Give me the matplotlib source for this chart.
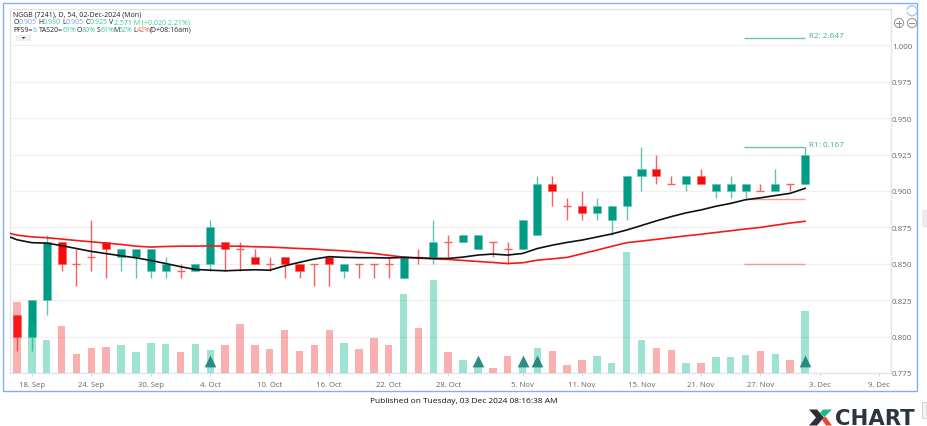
import matplotlib
matplotlib.use('Agg')
import matplotlib.pyplot as plt
from matplotlib.patches import Rectangle, Circle, Polygon, FancyBboxPatch
import numpy as np

# candles, one value per bar
opens = [.815, .800, .825, .865, .850, .855, .865, .855, .855, .845, .845, .845, .845, .850, .865, .860, .855, .850, .855, .850,
         .850, .855, .845, .850, .850, .850, .840, .855, .855, .865, .865, .860, .865, .860, .860, .870, .905, .890, .890, .885,
         .880, .890, .910, .915, .905, .905, .910, .900, .900, .900, .900, .900, .905, .905]
closes = [.800, .825, .865, .850, .850, .855, .860, .860, .860, .860, .850, .845, .850, .875, .860, .860, .850, .850, .850, .845,
          .850, .850, .850, .850, .850, .850, .855, .855, .865, .865, .870, .870, .865, .860, .880, .905, .900, .890, .885, .890,
          .890, .910, .915, .910, .905, .910, .905, .905, .905, .905, .900, .905, .905, .925]
highs = [.815, .825, .870, .865, .860, .880, .865, .860, .860, .860, .855, .850, .850, .880, .865, .865, .860, .855, .855, .850,
         .850, .855, .850, .850, .850, .855, .855, .860, .880, .870, .870, .870, .865, .865, .880, .910, .910, .895, .900, .895,
         .890, .910, .930, .925, .910, .910, .915, .905, .910, .905, .905, .915, .905, .930]
lows = [.790, .790, .815, .845, .835, .845, .840, .845, .840, .840, .840, .840, .845, .845, .845, .845, .850, .845, .840, .840,
        .835, .835, .840, .840, .840, .840, .840, .850, .850, .855, .865, .860, .855, .850, .860, .870, .890, .880, .880, .880,
        .870, .880, .900, .905, .905, .900, .905, .895, .895, .895, .900, .900, .900, .905]
is_up = [0, 1, 1, 0, 0, 0, 0, 1, 1, 1, 1, 0, 1, 1, 0, 0, 0, 0, 0, 0,
         0, 0, 1, 0, 0, 0, 1, 0, 1, 0, 1, 1, 0, 0, 1, 1, 0, 0, 0, 1,
         1, 1, 1, 0, 0, 1, 0, 1, 1, 1, 0, 1, 0, 1]
volumes = [2.94, 1.97, 1.36, 1.96, .79, 1.04, 1.08, 1.18, .89, 1.25, 1.21, .875, 1.21, .97, 1.15, 2.03, 1.18, 1.0, 1.78, .90,
           1.18, 1.78, 1.24, 1.0, 1.46, 1.15, 3.31, 1.875, 3.86, .86, .53, .27, .19, .69, .27, 1.03, .92, .32, .53, .71,
           .40, 5.04, 1.36, 1.04, .94, .42, .42, .68, .68, .76, .90, .79, .56, 2.57]

# moving averages, the first value sits one bar left of the first candle
ma_black = [.8705, .8665, .8645, .8642, .8625, .8605, .8585, .857, .8555, .8541, .8523, .8502, .848, .8461, .8456, .8452, .8456, .8459, .8456, .8486,
            .851, .8533, .8549, .8544, .8542, .8542, .854, .8544, .8541, .8537, .8537, .8546, .856, .8567, .856, .8571, .8605, .8628, .8647, .8663,
            .8684, .8705, .8732, .8763, .8795, .8824, .885, .887, .8895, .8915, .894, .8953, .8969, .8984, .9018]
ma_red = [.8722, .8697, .8685, .8679, .867, .866, .8651, .8642, .8633, .8621, .8615, .8619, .8621, .8621, .8623, .8621, .8621, .8617, .8615, .861,
          .8605, .8601, .8594, .8589, .858, .8571, .8558, .8546, .8539, .8534, .853, .8523, .8516, .8509, .8502, .8507, .8525, .8534, .8544, .8569,
          .8594, .862, .8645, .8656, .8668, .868, .8692, .8703, .8715, .8727, .8739, .875, .8765, .878, .8792]

signal_bars = [13, 31, 34, 35, 53]
tick_bars = [1, 5, 9, 13, 17, 21, 25, 29, 34, 38, 42, 46, 50, 54, 58]
tick_labels = ['18. Sep', '24. Sep', '30. Sep', '4. Oct', '10. Oct', '16. Oct', '22. Oct', '28. Oct',
               '5. Nov', '11. Nov', '15. Nov', '21. Nov', '27. Nov', '3. Dec', '9. Dec']
price_ticks = [.775, .800, .825, .850, .875, .900, .925, .950, .975, 1.000]

r_start, r_end = 48.9, 53
r2_level, r1_level = 1.005, .930
s1_level, s2_level = .8945, .850

TEAL = '#009b84'
RED = '#f90a0a'
W, H = 928, 427
plt.rcParams['font.family'] = ['Open Sans', 'DejaVu Sans']

fig = plt.figure(figsize=(W/100, H/100), dpi=100, facecolor='white')

# plain pixel layer for the frame and the small widgets
bg = fig.add_axes([0, 0, 1, 1], zorder=0)
bg.set_xlim(0, W)
bg.set_ylim(H, 0)
bg.axis('off')
bg.add_patch(Rectangle((3.5, 3.5), 914, 388.5, fill=False, ec='#7fb0f5', lw=1))

# price axis
ax = fig.add_axes([10/W, 1-374/H, 881/W, 364.5/H], zorder=1)
ax.patch.set_alpha(0)
x = np.arange(len(opens))
ax.set_xlim(-0.47, 58.78)
ax.set_ylim(.775, .775 + 364.5/36.4*.025)

# volume sits on its own scale over the candles
vol = ax.twinx()
vol.set_zorder(2)
vol.patch.set_alpha(0)
vol.set_ylim(0, 364.5/24)
vol.set_yticks([])
for side in vol.spines:
    vol.spines[side].set_visible(False)
cols = ['#00b386' if u else '#f43030' for u in is_up]
vol.bar(x, volumes, width=.5, color=cols, alpha=.38, zorder=2)
vol.scatter(signal_bars, [.52]*len(signal_bars), marker='^', s=72, color='#1d8379', alpha=.92, lw=0, zorder=3)

ax.yaxis.tick_right()
ax.set_yticks(price_ticks)
ax.set_yticklabels(['%.3f' % p for p in price_ticks])
ax.set_xticks(tick_bars)
ax.set_xticklabels(tick_labels)
ax.tick_params(axis='y', length=0, pad=.8, labelsize=5.8, labelcolor='#666666')
ax.tick_params(axis='x', length=2.2, width=.7, color='#ccd6eb', pad=3.5, labelsize=5.6, labelcolor='#666666')
ax.grid(axis='y', color='#f0f0f0', lw=1)
ax.set_axisbelow(True)
for side in ['top', 'left', 'right']:
    ax.spines[side].set_color('#e4e4e4')
    ax.spines[side].set_linewidth(1)
ax.spines['bottom'].set_color('#dfe6f3')
ax.spines['bottom'].set_linewidth(1)

for i in x:
    body_col = TEAL if is_up[i] else RED
    wick_col = '#62c2b4' if is_up[i] else '#f86060'
    ax.vlines(i, lows[i], highs[i], color=wick_col, lw=1, zorder=2)
    if opens[i] == closes[i]:
        ax.hlines(opens[i], i-.27, i+.27, color=wick_col, lw=1, zorder=2)
    else:
        ax.bar(i, abs(closes[i]-opens[i]), bottom=min(opens[i], closes[i]), width=.54,
               color=body_col, edgecolor=wick_col, lw=.4, zorder=3)

ax.plot(np.arange(-1, 54), ma_red, color='#f41a1a', lw=1.2, zorder=4)
ax.plot(np.arange(-1, 54), ma_black, color='#111111', lw=1.2, zorder=4)

# resistance / support marks
ax.hlines([r2_level, r1_level], r_start, r_end, color='#6fc3ae', lw=1, zorder=4)
ax.hlines([s1_level, s2_level], r_start, r_end, color='#f59a9a', lw=1, zorder=3)
ax.text(53.25, r1_level + .002, 'R1: 0.167', color='#45ab90', fontsize=5.9, va='center', ha='left')
ax.text(53.25, r2_level + .0015, 'R2: 2.647', color='#45ab90', fontsize=5.9, va='center', ha='left')

top = fig.add_axes([0, 0, 1, 1], zorder=3)
top.set_xlim(0, W)
top.set_ylim(H, 0)
top.axis('off')
top.patch.set_alpha(0)

BLK = '#222222'
BLU = '#6f9cf5'
GRN = '#3cc79b'
HEAD = 5.0
top.text(13.3, 15.3, 'NGGB (7241), D, 54, 02-Dec-2024 (Mon)', color=BLK, fontsize=HEAD, va='center')
line2 = [(13.3, 'O', BLK), (18.3, '0.905', BLU), (38, 'H', BLK), (43, '0.930', GRN), (62.3, 'L', BLK), (66, '0.905', BLU),
         (85.3, 'C', BLK), (89.3, '0.925', GRN), (109.3, 'V', BLK), (113.7, '2.571 M (+0.020 2.21%)', GRN)]
line3 = [(13.3, 'PFS9=', BLK), (32.7, '6', BLU), (38.7, 'TAS20=', BLK), (62.7, '61%', GRN), (77, 'O', BLK), (82, '80%', GRN),
         (96.3, 'S', BLK), (100.3, '61%', GRN), (113.7, 'M', BLK), (118.6, '62%', GRN), (133.3, 'L', BLK), (137, '42%', '#f25c5c'),
         (150, '(D+08:16am)', BLK)]
for px, s, c in line2:
    top.text(px, 22.5, s, color=c, fontsize=HEAD, va='center')
for px, s, c in line3:
    top.text(px, 30, s, color=c, fontsize=HEAD, va='center')
top.add_patch(Rectangle((16, 36), 15, 6, color='#eeeeee', lw=0))
top.add_patch(Polygon([(21.5, 38), (25.5, 38), (23.5, 40)], color='#444444', lw=0))

# zoom buttons and refresh mark
for cx, sym in [(899, '+'), (912, '-')]:
    top.add_patch(Circle((cx, 24), 4.6, fill=False, ec='#999999', lw=.8))
    top.plot([cx-2.5, cx+2.5], [24, 24], color='#888888', lw=.7)
    if sym == '+':
        top.plot([cx, cx], [21.5, 26.5], color='#888888', lw=.7)
t = np.radians(np.linspace(200, 340, 20))
top.plot(912+5*np.cos(t), 11.7+5*np.sin(t), color='#a8c8f5', lw=1)
t2 = np.radians(np.linspace(20, 160, 20))
top.plot(912+5*np.cos(t2), 11.7+5*np.sin(t2), color='#a8c8f5', lw=1)

# stubs at the right border
top.add_patch(FancyBboxPatch((923.5, 212), 6, 15, boxstyle='round,pad=0.5', fc='#eeeeee', ec='#dddddd', lw=.6))
top.add_patch(FancyBboxPatch((923, 404), 3.5, 15, boxstyle='round,pad=0.5', fc='#f4f4f4', ec='#cccccc', lw=.6))

top.text(464, 401.3, 'Published on Tuesday, 03 Dec 2024 08:16:38 AM', color='#111111', fontsize=6.0,
         ha='center', va='center')

# logo
top.add_patch(Polygon([(809, 410.5), (817, 410.5), (824, 418.5), (817, 426.5), (809, 426.5), (816, 418.5)], color='#2b3038', lw=0))
top.add_patch(Polygon([(823, 410.5), (832, 410.5), (824.5, 418), (820, 414)], color='#1fb885', lw=0))
top.add_patch(Polygon([(822, 420.5), (825.5, 417.5), (832, 426.5), (826, 426.5)], color='#e8452f', lw=0))
top.text(835, 418.8, 'CHART', color='#2b3440', fontsize=15.2, fontweight='bold', family='DejaVu Sans',
         ha='left', va='center')

fig.savefig('out.png', dpi=100)
